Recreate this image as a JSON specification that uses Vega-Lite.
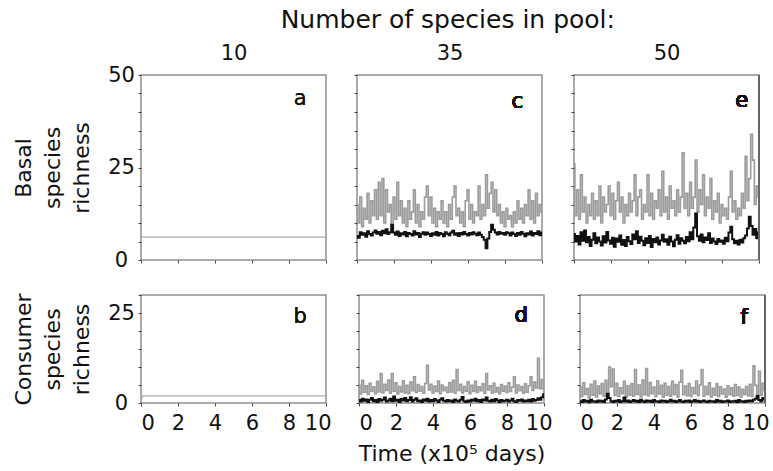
{
  "$schema": "https://vega.github.io/schema/vega-lite/v6.json",
  "background": "white",
  "padding": {"left": 11, "top": 8, "right": 5, "bottom": 5},
  "config": {
    "font": "DejaVu Sans",
    "view": {"stroke": "#8f8f8f", "strokeWidth": 1.5},
    "axis": {"domain": false, "grid": false, "tickSize": 3, "tickColor": "#444", "tickWidth": 1, "labelFont": "DejaVu Sans", "labelFontSize": 21, "labelColor": "#111", "titleFont": "DejaVu Sans", "titleFontSize": 22, "titleFontWeight": "normal", "titleColor": "#111"},
    "title": {"font": "DejaVu Sans", "fontWeight": "normal", "color": "#111"}
  },
  "title": {"text": "Number of species in pool:", "fontSize": 25, "anchor": "middle", "dx": 57, "offset": 8},
  "datasets": {
    "a": [{"t":0,"g":6.2},{"t":10,"g":6.2}],
    "b": [{"t":0,"g":0.4},{"t":0.08,"g":2},{"t":10,"g":2}],
    "c": [{"t":0,"g":15,"b":6.5},{"t":0.1,"g":10,"b":6},{"t":0.2,"g":17,"b":7.5},{"t":0.3,"g":9,"b":6.8},{"t":0.4,"g":14,"b":7.2},{"t":0.5,"g":11,"b":6.3},{"t":0.6,"g":18,"b":7.8},{"t":0.7,"g":10,"b":7},{"t":0.8,"g":16,"b":6.6},{"t":0.9,"g":12,"b":7.4},
{"t":1,"g":19,"b":8},{"t":1.1,"g":11,"b":7.1},{"t":1.2,"g":21,"b":7.6},{"t":1.3,"g":12,"b":6.7},{"t":1.4,"g":22,"b":7.9},{"t":1.5,"g":10,"b":7.2},{"t":1.6,"g":19,"b":8.3},{"t":1.7,"g":13,"b":7},{"t":1.8,"g":15,"b":7.5},{"t":1.9,"g":9,"b":9.5},
{"t":2,"g":17,"b":7.4},{"t":2.1,"g":11,"b":6.8},{"t":2.2,"g":21,"b":7.7},{"t":2.3,"g":12,"b":6.5},{"t":2.4,"g":16,"b":7.2},{"t":2.5,"g":10,"b":6.9},{"t":2.6,"g":14,"b":7.6},{"t":2.7,"g":9,"b":6.4},{"t":2.8,"g":16,"b":7.3},{"t":2.9,"g":11,"b":7},
{"t":3,"g":13,"b":6.6},{"t":3.1,"g":19,"b":7.8},{"t":3.2,"g":10,"b":6.9},{"t":3.3,"g":15,"b":7.3},{"t":3.4,"g":9,"b":6.2},{"t":3.5,"g":13,"b":7.1},{"t":3.6,"g":11,"b":7.5},{"t":3.7,"g":17,"b":6.8},{"t":3.8,"g":20,"b":7.4},{"t":3.9,"g":12,"b":7},
{"t":4,"g":17,"b":6.5},{"t":4.1,"g":10,"b":7.2},{"t":4.2,"g":14,"b":6.8},{"t":4.3,"g":9,"b":7.6},{"t":4.4,"g":13,"b":6.6},{"t":4.5,"g":11,"b":7.3},{"t":4.6,"g":16,"b":7},{"t":4.7,"g":10,"b":6.4},{"t":4.8,"g":13,"b":7.5},{"t":4.9,"g":9,"b":7.1},
{"t":5,"g":15,"b":6.7},{"t":5.1,"g":11,"b":7.4},{"t":5.2,"g":17,"b":7.9},{"t":5.3,"g":20,"b":6.8},{"t":5.4,"g":12,"b":7.2},{"t":5.5,"g":14,"b":6.5},{"t":5.6,"g":10,"b":7.3},{"t":5.7,"g":13,"b":6.9},{"t":5.8,"g":9,"b":7.6},{"t":5.9,"g":16,"b":7},
{"t":6,"g":19,"b":6.6},{"t":6.1,"g":11,"b":7.3},{"t":6.2,"g":15,"b":6.9},{"t":6.3,"g":10,"b":7.5},{"t":6.4,"g":13,"b":7.1},{"t":6.5,"g":12,"b":6.7},{"t":6.6,"g":20,"b":7.4},{"t":6.7,"g":11,"b":6.8},{"t":6.8,"g":15,"b":6.2},{"t":6.9,"g":12,"b":5.5},
{"t":7,"g":23,"b":3.2},{"t":7.1,"g":14,"b":5.8},{"t":7.2,"g":18,"b":7.6},{"t":7.3,"g":21,"b":9.5},{"t":7.4,"g":13,"b":8.2},{"t":7.5,"g":19,"b":7.4},{"t":7.6,"g":12,"b":6.9},{"t":7.7,"g":15,"b":7.6},{"t":7.8,"g":10,"b":7.1},{"t":7.9,"g":13,"b":7.3},
{"t":8,"g":9,"b":6.8},{"t":8.1,"g":14,"b":7.5},{"t":8.2,"g":11,"b":7.2},{"t":8.3,"g":12,"b":6.6},{"t":8.4,"g":9,"b":7.4},{"t":8.5,"g":13,"b":7},{"t":8.6,"g":10,"b":6.5},{"t":8.7,"g":16,"b":7.3},{"t":8.8,"g":11,"b":6.8},{"t":8.9,"g":14,"b":7.6},
{"t":9,"g":10,"b":7.1},{"t":9.1,"g":15,"b":6.4},{"t":9.2,"g":12,"b":7.2},{"t":9.3,"g":19,"b":6.9},{"t":9.4,"g":11,"b":7.7},{"t":9.5,"g":16,"b":6.6},{"t":9.6,"g":10,"b":7.3},{"t":9.7,"g":18,"b":7},{"t":9.8,"g":12,"b":7.8},{"t":9.9,"g":15,"b":6.7},{"t":10,"g":13,"b":7.4}],
    "e": [{"t":0,"g":26,"b":7},{"t":0.1,"g":12,"b":5},{"t":0.2,"g":19,"b":6.5},{"t":0.3,"g":11,"b":4.2},{"t":0.4,"g":23,"b":7.5},{"t":0.5,"g":13,"b":5.2},{"t":0.6,"g":17,"b":8},{"t":0.7,"g":10,"b":4.8},{"t":0.8,"g":15,"b":6.2},{"t":0.9,"g":12,"b":3.8},
{"t":1,"g":18,"b":5.5},{"t":1.1,"g":11,"b":7.2},{"t":1.2,"g":16,"b":4.5},{"t":1.3,"g":12,"b":6.1},{"t":1.4,"g":20,"b":5},{"t":1.5,"g":10,"b":3.9},{"t":1.6,"g":17,"b":6.4},{"t":1.7,"g":13,"b":4.7},{"t":1.8,"g":15,"b":7.6},{"t":1.9,"g":20,"b":5.3},
{"t":2,"g":12,"b":4.4},{"t":2.1,"g":18,"b":6},{"t":2.2,"g":11,"b":3.6},{"t":2.3,"g":16,"b":5.8},{"t":2.4,"g":21,"b":4.9},{"t":2.5,"g":13,"b":6.6},{"t":2.6,"g":17,"b":4.1},{"t":2.7,"g":10,"b":5.4},{"t":2.8,"g":15,"b":3.8},{"t":2.9,"g":12,"b":6.2},
{"t":3,"g":18,"b":5.1},{"t":3.1,"g":13,"b":4.3},{"t":3.2,"g":16,"b":6.9},{"t":3.3,"g":23,"b":5.6},{"t":3.4,"g":12,"b":7.8},{"t":3.5,"g":17,"b":4.6},{"t":3.6,"g":19,"b":6.3},{"t":3.7,"g":11,"b":5.2},{"t":3.8,"g":15,"b":4},{"t":3.9,"g":13,"b":5.9},
{"t":4,"g":23,"b":4.6},{"t":4.1,"g":12,"b":6.5},{"t":4.2,"g":18,"b":3.5},{"t":4.3,"g":11,"b":5.7},{"t":4.4,"g":16,"b":4.8},{"t":4.5,"g":14,"b":6.1},{"t":4.6,"g":19,"b":4.2},{"t":4.7,"g":12,"b":5.3},{"t":4.8,"g":24,"b":6.8},{"t":4.9,"g":13,"b":4.9},
{"t":5,"g":17,"b":5.6},{"t":5.1,"g":11,"b":4.1},{"t":5.2,"g":20,"b":6.3},{"t":5.3,"g":14,"b":5},{"t":5.4,"g":16,"b":3.7},{"t":5.5,"g":12,"b":5.5},{"t":5.6,"g":19,"b":6.7},{"t":5.7,"g":13,"b":4.4},{"t":5.8,"g":17,"b":5.9},{"t":5.9,"g":29,"b":5.2},
{"t":6,"g":14,"b":4.5},{"t":6.1,"g":18,"b":6.2},{"t":6.2,"g":12,"b":5.1},{"t":6.3,"g":21,"b":7.5},{"t":6.4,"g":14,"b":5.6},{"t":6.5,"g":17,"b":8.8},{"t":6.6,"g":27,"b":12.6},{"t":6.7,"g":13,"b":6.4},{"t":6.8,"g":19,"b":5.2},{"t":6.9,"g":15,"b":6.9},
{"t":7,"g":23,"b":4.8},{"t":7.1,"g":12,"b":6.1},{"t":7.2,"g":17,"b":5.4},{"t":7.3,"g":14,"b":7.2},{"t":7.4,"g":22,"b":4.6},{"t":7.5,"g":11,"b":5.8},{"t":7.6,"g":16,"b":5},{"t":7.7,"g":13,"b":4.3},{"t":7.8,"g":18,"b":5.7},{"t":7.9,"g":10,"b":4.9},
{"t":8,"g":15,"b":5.3},{"t":8.1,"g":12,"b":4.4},{"t":8.2,"g":14,"b":6},{"t":8.3,"g":11,"b":5.1},{"t":8.4,"g":17,"b":7.4},{"t":8.5,"g":24,"b":9},{"t":8.6,"g":13,"b":5.6},{"t":8.7,"g":16,"b":4.5},{"t":8.8,"g":11,"b":5.2},{"t":8.9,"g":14,"b":4.2},
{"t":9,"g":12,"b":5.5},{"t":9.1,"g":18,"b":4.7},{"t":9.2,"g":14,"b":5.9},{"t":9.3,"g":28,"b":6.6},{"t":9.4,"g":16,"b":8.5},{"t":9.5,"g":22,"b":11.7},{"t":9.6,"g":34,"b":9.2},{"t":9.7,"g":27,"b":6.8},{"t":9.8,"g":15,"b":8.4},{"t":9.9,"g":20,"b":5.9},{"t":10,"g":17,"b":7.5}],
    "d": [{"t":0,"g":5,"b":0.8},{"t":0.1,"g":2.5,"b":0.4},{"t":0.2,"g":6.3,"b":1.2},{"t":0.3,"g":3,"b":0.6},{"t":0.4,"g":4.8,"b":1},{"t":0.5,"g":2.4,"b":0.3},{"t":0.6,"g":5.5,"b":0.9},{"t":0.7,"g":3.2,"b":1.4},{"t":0.8,"g":4.5,"b":0.5},{"t":0.9,"g":2.6,"b":0.8},
{"t":1,"g":6,"b":0.3},{"t":1.1,"g":3.1,"b":1.1},{"t":1.2,"g":8.2,"b":0.6},{"t":1.3,"g":2.8,"b":0.9},{"t":1.4,"g":5.2,"b":1.5},{"t":1.5,"g":3.5,"b":0.4},{"t":1.6,"g":6.4,"b":0.7},{"t":1.7,"g":2.7,"b":1.2},{"t":1.8,"g":8.2,"b":0.5},{"t":1.9,"g":3.3,"b":1.8},
{"t":2,"g":5.6,"b":0.6},{"t":2.1,"g":2.5,"b":0.9},{"t":2.2,"g":4.6,"b":0.3},{"t":2.3,"g":3.1,"b":1.1},{"t":2.4,"g":6.2,"b":0.7},{"t":2.5,"g":2.8,"b":1.4},{"t":2.6,"g":4.9,"b":0.5},{"t":2.7,"g":2.6,"b":0.8},{"t":2.8,"g":5.8,"b":1.6},{"t":2.9,"g":3.4,"b":0.4},
{"t":3,"g":7.3,"b":0.9},{"t":3.1,"g":2.9,"b":1.3},{"t":3.2,"g":5.1,"b":0.5},{"t":3.3,"g":3.3,"b":0.7},{"t":3.4,"g":4.6,"b":0.3},{"t":3.5,"g":2.7,"b":1},{"t":3.6,"g":5.4,"b":0.6},{"t":3.7,"g":10.5,"b":1.2},{"t":3.8,"g":3.6,"b":0.4},{"t":3.9,"g":5.2,"b":0.8},
{"t":4,"g":2.8,"b":0.5},{"t":4.1,"g":4.7,"b":1.1},{"t":4.2,"g":3.2,"b":0.7},{"t":4.3,"g":6.1,"b":0.3},{"t":4.4,"g":2.6,"b":0.9},{"t":4.5,"g":5,"b":1.3},{"t":4.6,"g":3.4,"b":0.6},{"t":4.7,"g":4.4,"b":0.4},{"t":4.8,"g":2.9,"b":0.8},{"t":4.9,"g":5.7,"b":0.5},
{"t":5,"g":3.1,"b":0.7},{"t":5.1,"g":6.3,"b":0.3},{"t":5.2,"g":2.7,"b":1},{"t":5.3,"g":9.3,"b":0.6},{"t":5.4,"g":3.5,"b":0.4},{"t":5.5,"g":5.2,"b":0.9},{"t":5.6,"g":2.8,"b":1.7},{"t":5.7,"g":4.6,"b":0.5},{"t":5.8,"g":3.3,"b":0.3},{"t":5.9,"g":5.9,"b":0.7},
{"t":6,"g":2.6,"b":0.4},{"t":6.1,"g":4.9,"b":0.9},{"t":6.2,"g":3.2,"b":0.6},{"t":6.3,"g":6,"b":1.2},{"t":6.4,"g":2.9,"b":0.5},{"t":6.5,"g":4.5,"b":0.8},{"t":6.6,"g":3.4,"b":0.3},{"t":6.7,"g":5.3,"b":1},{"t":6.8,"g":2.7,"b":0.7},{"t":6.9,"g":8.2,"b":1.5},
{"t":7,"g":3.6,"b":0.6},{"t":7.1,"g":4.8,"b":0.4},{"t":7.2,"g":2.8,"b":0.9},{"t":7.3,"g":5.5,"b":0.5},{"t":7.4,"g":3.1,"b":1.1},{"t":7.5,"g":4.3,"b":0.7},{"t":7.6,"g":2.6,"b":0.3},{"t":7.7,"g":5.1,"b":0.8},{"t":7.8,"g":3.3,"b":0.5},{"t":7.9,"g":4.7,"b":0.6},
{"t":8,"g":2.9,"b":0.9},{"t":8.1,"g":5.6,"b":0.4},{"t":8.2,"g":3.2,"b":0.7},{"t":8.3,"g":4.4,"b":1.2},{"t":8.4,"g":7.3,"b":0.5},{"t":8.5,"g":2.8,"b":0.3},{"t":8.6,"g":5,"b":0.8},{"t":8.7,"g":3.4,"b":0.6},{"t":8.8,"g":4.6,"b":1},{"t":8.9,"g":2.7,"b":0.4},
{"t":9,"g":5.3,"b":0.7},{"t":9.1,"g":3,"b":0.5},{"t":9.2,"g":4.8,"b":0.9},{"t":9.3,"g":7.3,"b":0.4},{"t":9.4,"g":3.5,"b":1.1},{"t":9.5,"g":5.8,"b":0.6},{"t":9.6,"g":4.2,"b":0.8},{"t":9.7,"g":12.4,"b":1.3},{"t":9.8,"g":4,"b":0.9},{"t":9.9,"g":6.5,"b":1.6},{"t":10,"g":3.8,"b":2.4}],
    "f": [{"t":0,"g":4.5,"b":0.5},{"t":0.1,"g":1.8,"b":0.3},{"t":0.2,"g":5.6,"b":0.8},{"t":0.3,"g":2.4,"b":0.4},{"t":0.4,"g":4,"b":0.6},{"t":0.5,"g":1.5,"b":0.2},{"t":0.6,"g":5.2,"b":0.9},{"t":0.7,"g":2.2,"b":0.4},{"t":0.8,"g":6.1,"b":0.5},{"t":0.9,"g":1.7,"b":0.3},
{"t":1,"g":4.7,"b":0.7},{"t":1.1,"g":2.5,"b":0.4},{"t":1.2,"g":5.4,"b":0.6},{"t":1.3,"g":1.9,"b":0.3},{"t":1.4,"g":6.3,"b":1},{"t":1.5,"g":2.3,"b":2.6},{"t":1.6,"g":10,"b":1.4},{"t":1.7,"g":4.5,"b":0.5},{"t":1.8,"g":9.4,"b":0.3},{"t":1.9,"g":2.1,"b":0.6},
{"t":2,"g":5.5,"b":0.4},{"t":2.1,"g":1.8,"b":0.8},{"t":2.2,"g":4.2,"b":0.3},{"t":2.3,"g":2.6,"b":0.5},{"t":2.4,"g":6,"b":1.5},{"t":2.5,"g":1.6,"b":0.4},{"t":2.6,"g":4.8,"b":0.7},{"t":2.7,"g":2.2,"b":0.3},{"t":2.8,"g":5.3,"b":0.5},{"t":2.9,"g":1.9,"b":0.8},
{"t":3,"g":9.3,"b":0.4},{"t":3.1,"g":2.4,"b":0.6},{"t":3.2,"g":5,"b":0.3},{"t":3.3,"g":1.7,"b":0.9},{"t":3.4,"g":6.4,"b":0.5},{"t":3.5,"g":2.3,"b":0.3},{"t":3.6,"g":9.6,"b":0.7},{"t":3.7,"g":2,"b":0.4},{"t":3.8,"g":5.7,"b":0.6},{"t":3.9,"g":2.6,"b":0.3},
{"t":4,"g":4.4,"b":0.8},{"t":4.1,"g":1.8,"b":0.4},{"t":4.2,"g":6.2,"b":0.5},{"t":4.3,"g":2.5,"b":0.3},{"t":4.4,"g":4.9,"b":0.7},{"t":4.5,"g":1.6,"b":0.4},{"t":4.6,"g":5.5,"b":0.6},{"t":4.7,"g":2.2,"b":0.3},{"t":4.8,"g":4.6,"b":0.5},{"t":4.9,"g":1.9,"b":0.9},
{"t":5,"g":6,"b":0.4},{"t":5.1,"g":2.4,"b":0.6},{"t":5.2,"g":5.1,"b":0.3},{"t":5.3,"g":1.7,"b":0.5},{"t":5.4,"g":5.8,"b":0.8},{"t":5.5,"g":9.1,"b":0.4},{"t":5.6,"g":2.3,"b":0.3},{"t":5.7,"g":4.7,"b":0.6},{"t":5.8,"g":2,"b":0.4},{"t":5.9,"g":5.4,"b":0.7},
{"t":6,"g":1.8,"b":0.3},{"t":6.1,"g":4.3,"b":0.5},{"t":6.2,"g":2.6,"b":0.8},{"t":6.3,"g":6.1,"b":0.4},{"t":6.4,"g":2.1,"b":0.6},{"t":6.5,"g":5,"b":0.3},{"t":6.6,"g":9.3,"b":0.5},{"t":6.7,"g":1.9,"b":0.7},{"t":6.8,"g":4.6,"b":0.4},{"t":6.9,"g":2.4,"b":0.3},
{"t":7,"g":5.6,"b":0.6},{"t":7.1,"g":1.7,"b":0.4},{"t":7.2,"g":4.1,"b":0.5},{"t":7.3,"g":2.2,"b":0.3},{"t":7.4,"g":5.3,"b":0.8},{"t":7.5,"g":1.8,"b":0.4},{"t":7.6,"g":4.5,"b":0.6},{"t":7.7,"g":2.5,"b":0.3},{"t":7.8,"g":3.9,"b":0.5},{"t":7.9,"g":1.6,"b":0.4},
{"t":8,"g":4.8,"b":0.7},{"t":8.1,"g":2.3,"b":0.3},{"t":8.2,"g":4.2,"b":0.5},{"t":8.3,"g":1.9,"b":0.4},{"t":8.4,"g":5.1,"b":0.6},{"t":8.5,"g":2.1,"b":0.3},{"t":8.6,"g":4.4,"b":0.8},{"t":8.7,"g":1.7,"b":0.4},{"t":8.8,"g":3.8,"b":0.5},{"t":8.9,"g":2.4,"b":0.3},
{"t":9,"g":4.6,"b":0.6},{"t":9.1,"g":2,"b":0.4},{"t":9.2,"g":5.2,"b":0.7},{"t":9.3,"g":1.8,"b":0.5},{"t":9.4,"g":10.3,"b":0.9},{"t":9.5,"g":4.9,"b":1.2},{"t":9.6,"g":2.6,"b":2},{"t":9.7,"g":8.8,"b":0.8},{"t":9.8,"g":2.2,"b":0.5},{"t":9.9,"g":5.5,"b":1.4},{"t":10,"g":3.5,"b":1}]
  },
  "spacing": 21,
  "vconcat": [
    {
      "spacing": 22,
      "hconcat": [
        {
          "width": 185, "height": 185,
          "data": {"name": "a"},
          "resolve": {"axis": {"x": "independent"}},
          "layer": [
            {"mark": {"type": "line", "color": "#ababab", "strokeWidth": 1.3},
             "encoding": {
               "x": {"field": "t", "type": "quantitative", "scale": {"domain": [0, 10], "nice": false}, "axis": {"values": [0, 2, 4, 6, 8, 10], "tickCount": 20, "labels": false, "title": null}},
               "y": {"field": "g", "type": "quantitative", "scale": {"domain": [0, 50], "nice": false}, "axis": {"values": [0, 5, 10, 15, 20, 25, 30, 35, 40, 45, 50], "tickCount": 20, "format": "d", "labelOverlap": false, "labelExpr": "datum.value % 25 === 0 ? datum.label : ''", "labelFontSize": {"condition": {"test": "datum.value % 25 !== 0", "value": 0}, "value": 21}, "labelAlign": "center", "labelPadding": 17, "title": ["Basal", "species", "richness"], "titleLineHeight": 29, "titlePadding": 14}}
             }},
            {"mark": {"type": "text", "text": "a", "fontSize": 21, "color": "#111"},
             "encoding": {"x": {"datum": 8.6, "axis": {"orient": "top", "title": "10", "ticks": false, "labels": false, "domain": false, "titleFontSize": 21, "titlePadding": 12}}, "y": {"datum": 43.5}}}
          ]
        },
        {
          "width": 185, "height": 185,
          "data": {"name": "c"},
          "resolve": {"axis": {"x": "independent"}},
          "layer": [
            {"mark": {"type": "line", "color": "#9b9b9b", "strokeWidth": 1.6, "interpolate": "step"},
             "encoding": {
               "x": {"field": "t", "type": "quantitative", "scale": {"domain": [0, 10], "nice": false}, "axis": {"values": [0, 2, 4, 6, 8, 10], "tickCount": 20, "labels": false, "title": null}},
               "y": {"field": "g", "type": "quantitative", "scale": {"domain": [0, 50], "nice": false}, "axis": {"values": [0, 5, 10, 15, 20, 25, 30, 35, 40, 45, 50], "tickCount": 20, "labels": false, "title": null}}
             }},
            {"mark": {"type": "line", "color": "#111111", "strokeWidth": 2, "interpolate": "step"},
             "encoding": {"x": {"field": "t", "type": "quantitative", "axis": null}, "y": {"field": "b", "type": "quantitative"}}},
            {"mark": {"type": "text", "text": "c", "fontSize": 21, "color": "#111"},
             "encoding": {"x": {"datum": 8.66, "axis": {"orient": "top", "title": "35", "ticks": false, "labels": false, "domain": false, "titleFontSize": 21, "titlePadding": 12}}, "y": {"datum": 42.8}}}
          ]
        },
        {
          "width": 185, "height": 185,
          "data": {"name": "e"},
          "resolve": {"axis": {"x": "independent"}},
          "layer": [
            {"mark": {"type": "line", "color": "#9b9b9b", "strokeWidth": 1.6, "interpolate": "step"},
             "encoding": {
               "x": {"field": "t", "type": "quantitative", "scale": {"domain": [0, 10], "nice": false}, "axis": {"values": [0, 2, 4, 6, 8, 10], "tickCount": 20, "labels": false, "title": null}},
               "y": {"field": "g", "type": "quantitative", "scale": {"domain": [0, 50], "nice": false}, "axis": {"values": [0, 5, 10, 15, 20, 25, 30, 35, 40, 45, 50], "tickCount": 20, "labels": false, "title": null}}
             }},
            {"mark": {"type": "line", "color": "#111111", "strokeWidth": 2, "interpolate": "step"},
             "encoding": {"x": {"field": "t", "type": "quantitative", "axis": null}, "y": {"field": "b", "type": "quantitative"}}},
            {"mark": {"type": "rule", "color": "#666", "strokeWidth": 2},
             "encoding": {"x": {"datum": 10, "axis": null}}},
            {"mark": {"type": "text", "text": "e", "fontSize": 21, "color": "#111"},
             "encoding": {"x": {"datum": 9.07, "axis": {"orient": "top", "title": "50", "ticks": false, "labels": false, "domain": false, "titleFontSize": 21, "titlePadding": 12}}, "y": {"datum": 43}}}
          ]
        }
      ]
    },
    {
      "spacing": 22,
      "hconcat": [
        {
          "width": 185, "height": 108,
          "data": {"name": "b"},
          "layer": [
            {"mark": {"type": "line", "color": "#ababab", "strokeWidth": 1.3},
             "encoding": {
               "x": {"field": "t", "type": "quantitative", "scale": {"domain": [0, 10], "nice": false}, "axis": {"values": [0, 2, 4, 6, 8, 10], "tickCount": 20, "format": "d", "labelOverlap": false, "labelOffset": {"condition": {"test": "datum.value === 10", "value": 5}, "value": 0}, "labelPadding": 6, "title": null}},
               "y": {"field": "g", "type": "quantitative", "scale": {"domain": [0, 30], "nice": false}, "axis": {"values": [0, 5, 10, 15, 20, 25, 30], "tickCount": 20, "format": "d", "labelOverlap": false, "labelExpr": "datum.value % 25 === 0 ? datum.label : ''", "labelFontSize": {"condition": {"test": "datum.value % 25 !== 0", "value": 0}, "value": 21}, "labelAlign": "center", "labelPadding": 17, "title": ["Consumer", "species", "richness"], "titleLineHeight": 29, "titlePadding": 14}}
             }},
            {"mark": {"type": "text", "text": "b", "fontSize": 21, "color": "#111"},
             "encoding": {"x": {"datum": 8.6}, "y": {"datum": 23.9}}}
          ]
        },
        {
          "width": 185, "height": 108,
          "data": {"name": "d"},
          "layer": [
            {"mark": {"type": "line", "color": "#9b9b9b", "strokeWidth": 1.6, "interpolate": "step"},
             "encoding": {
               "x": {"field": "t", "type": "quantitative", "scale": {"domain": [0, 10], "nice": false}, "axis": {"values": [0, 2, 4, 6, 8, 10], "tickCount": 20, "format": "d", "labelOverlap": false, "labelOffset": {"condition": {"test": "datum.value === 10", "value": 8}, "value": 0}, "labelPadding": 6, "title": "Time (x10⁵ days)", "titlePadding": 10}},
               "y": {"field": "g", "type": "quantitative", "scale": {"domain": [0, 30], "nice": false}, "axis": {"values": [0, 5, 10, 15, 20, 25, 30], "tickCount": 20, "labels": false, "title": null}}
             }},
            {"mark": {"type": "line", "color": "#111111", "strokeWidth": 2, "interpolate": "step"},
             "encoding": {"x": {"field": "t", "type": "quantitative"}, "y": {"field": "b", "type": "quantitative"}}},
            {"mark": {"type": "text", "text": "d", "fontSize": 21, "color": "#111"},
             "encoding": {"x": {"datum": 8.76}, "y": {"datum": 24.2}}}
          ]
        },
        {
          "width": 185, "height": 108,
          "data": {"name": "f"},
          "layer": [
            {"mark": {"type": "line", "color": "#9b9b9b", "strokeWidth": 1.6, "interpolate": "step"},
             "encoding": {
               "x": {"field": "t", "type": "quantitative", "scale": {"domain": [0, 10], "nice": false}, "axis": {"values": [0, 2, 4, 6, 8, 10], "tickCount": 20, "format": "d", "labelOverlap": false, "labelOffset": {"condition": {"test": "datum.value === 10", "value": 4}, "value": 0}, "labelPadding": 6, "title": null}},
               "y": {"field": "g", "type": "quantitative", "scale": {"domain": [0, 30], "nice": false}, "axis": {"values": [0, 5, 10, 15, 20, 25, 30], "tickCount": 20, "labels": false, "title": null}}
             }},
            {"mark": {"type": "line", "color": "#111111", "strokeWidth": 2, "interpolate": "step"},
             "encoding": {"x": {"field": "t", "type": "quantitative"}, "y": {"field": "b", "type": "quantitative"}}},
            {"mark": {"type": "rule", "color": "#666", "strokeWidth": 2},
             "encoding": {"x": {"datum": 10}}},
            {"mark": {"type": "text", "text": "f", "fontSize": 21, "color": "#111"},
             "encoding": {"x": {"datum": 8.87}, "y": {"datum": 23.7}}}
          ]
        }
      ]
    }
  ]
}
